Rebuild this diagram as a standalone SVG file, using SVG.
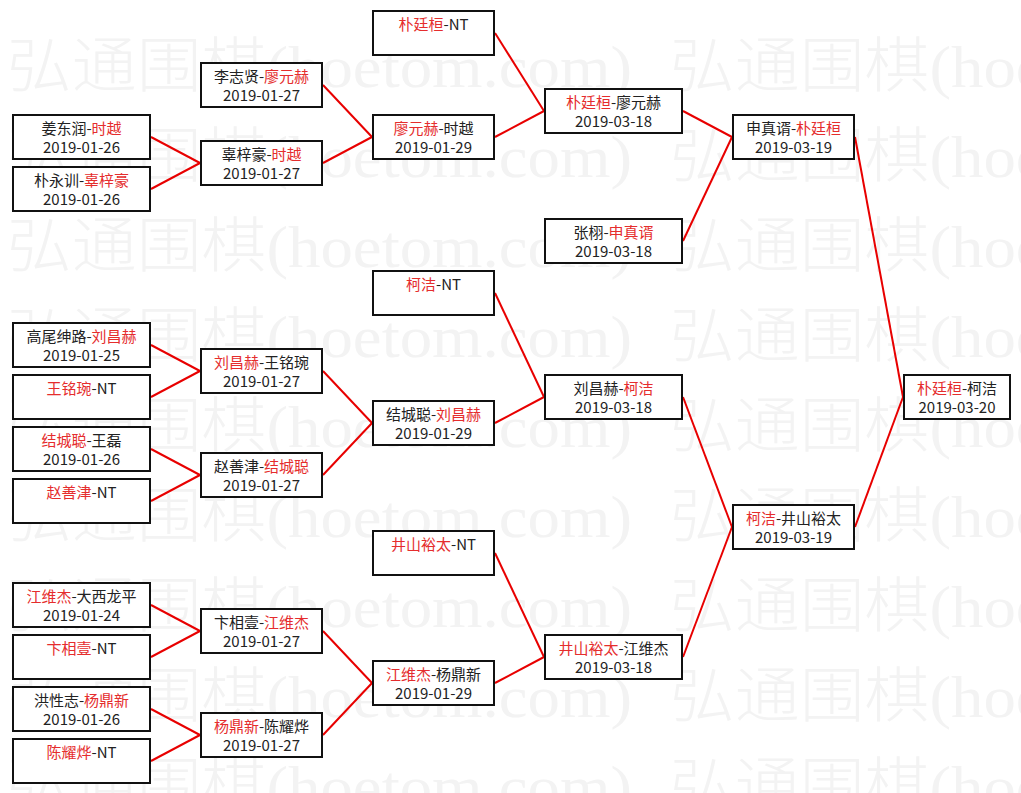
<svg xmlns="http://www.w3.org/2000/svg" width="1021" height="793" viewBox="0 0 1021 793">
<style>
.wm{font-family:"Liberation Serif","Noto Sans CJK SC",serif;font-size:60px;font-weight:300;fill:#f3f3f3}
.box{fill:#fff;stroke:#111;stroke-width:2}
.t{font-family:"Noto Sans CJK SC","Liberation Sans",sans-serif;font-size:15px;fill:#222;text-anchor:middle}
.r{fill:#e52d2d}
.c line{stroke:#e80000;stroke-width:2}
</style>
<rect width="1021" height="793" fill="#fff"/>
<g id="watermark">
<text class="wm" x="7" y="87" textLength="625" lengthAdjust="spacingAndGlyphs">弘通围棋(hoetom.com)</text><text class="wm" x="670" y="87" textLength="625" lengthAdjust="spacingAndGlyphs">弘通围棋(hoetom.com)</text>
<text class="wm" x="7" y="177" textLength="625" lengthAdjust="spacingAndGlyphs">弘通围棋(hoetom.com)</text><text class="wm" x="670" y="177" textLength="625" lengthAdjust="spacingAndGlyphs">弘通围棋(hoetom.com)</text>
<text class="wm" x="7" y="267" textLength="625" lengthAdjust="spacingAndGlyphs">弘通围棋(hoetom.com)</text><text class="wm" x="670" y="267" textLength="625" lengthAdjust="spacingAndGlyphs">弘通围棋(hoetom.com)</text>
<text class="wm" x="7" y="357" textLength="625" lengthAdjust="spacingAndGlyphs">弘通围棋(hoetom.com)</text><text class="wm" x="670" y="357" textLength="625" lengthAdjust="spacingAndGlyphs">弘通围棋(hoetom.com)</text>
<text class="wm" x="7" y="447" textLength="625" lengthAdjust="spacingAndGlyphs">弘通围棋(hoetom.com)</text><text class="wm" x="670" y="447" textLength="625" lengthAdjust="spacingAndGlyphs">弘通围棋(hoetom.com)</text>
<text class="wm" x="7" y="537" textLength="625" lengthAdjust="spacingAndGlyphs">弘通围棋(hoetom.com)</text><text class="wm" x="670" y="537" textLength="625" lengthAdjust="spacingAndGlyphs">弘通围棋(hoetom.com)</text>
<text class="wm" x="7" y="627" textLength="625" lengthAdjust="spacingAndGlyphs">弘通围棋(hoetom.com)</text><text class="wm" x="670" y="627" textLength="625" lengthAdjust="spacingAndGlyphs">弘通围棋(hoetom.com)</text>
<text class="wm" x="7" y="717" textLength="625" lengthAdjust="spacingAndGlyphs">弘通围棋(hoetom.com)</text><text class="wm" x="670" y="717" textLength="625" lengthAdjust="spacingAndGlyphs">弘通围棋(hoetom.com)</text>
<text class="wm" x="7" y="807" textLength="625" lengthAdjust="spacingAndGlyphs">弘通围棋(hoetom.com)</text><text class="wm" x="670" y="807" textLength="625" lengthAdjust="spacingAndGlyphs">弘通围棋(hoetom.com)</text>
</g>
<g id="connectors" class="c">
<line x1="151" y1="137" x2="200" y2="163"/><line x1="151" y1="189" x2="200" y2="163"/>
<line x1="151" y1="345" x2="200" y2="371"/><line x1="151" y1="397" x2="200" y2="371"/>
<line x1="151" y1="449" x2="200" y2="475"/><line x1="151" y1="501" x2="200" y2="475"/>
<line x1="151" y1="605" x2="200" y2="631"/><line x1="151" y1="657" x2="200" y2="631"/>
<line x1="151" y1="709" x2="200" y2="735"/><line x1="151" y1="761" x2="200" y2="735"/>
<line x1="323" y1="85" x2="372" y2="137"/><line x1="323" y1="163" x2="372" y2="137"/>
<line x1="323" y1="371" x2="372" y2="423"/><line x1="323" y1="475" x2="372" y2="423"/>
<line x1="323" y1="631" x2="372" y2="683"/><line x1="323" y1="735" x2="372" y2="683"/>
<line x1="495" y1="33" x2="544" y2="111"/><line x1="495" y1="137" x2="544" y2="111"/>
<line x1="495" y1="293" x2="544" y2="397"/><line x1="495" y1="423" x2="544" y2="397"/>
<line x1="495" y1="553" x2="544" y2="657"/><line x1="495" y1="683" x2="544" y2="657"/>
<line x1="683" y1="111" x2="732" y2="137"/><line x1="683" y1="241" x2="732" y2="137"/>
<line x1="683" y1="397" x2="732" y2="527"/><line x1="683" y1="657" x2="732" y2="527"/>
<line x1="855" y1="137" x2="903" y2="397"/><line x1="855" y1="527" x2="903" y2="397"/>
</g>
<!-- column 1 -->
<g id="n1"><rect class="box" x="13" y="115" width="137" height="44"/><text class="t" x="81.5" y="134">姜东润-<tspan class="r">时越</tspan></text><text class="t" x="81.5" y="153">2019-01-26</text></g>
<g id="n2"><rect class="box" x="13" y="167" width="137" height="44"/><text class="t" x="81.5" y="186">朴永训-<tspan class="r">辜梓豪</tspan></text><text class="t" x="81.5" y="205">2019-01-26</text></g>
<g id="n3"><rect class="box" x="13" y="323" width="137" height="44"/><text class="t" x="81.5" y="342">高尾绅路-<tspan class="r">刘昌赫</tspan></text><text class="t" x="81.5" y="361">2019-01-25</text></g>
<g id="n4"><rect class="box" x="13" y="375" width="137" height="44"/><text class="t" x="81.5" y="394"><tspan class="r">王铭琬</tspan>-NT</text></g>
<g id="n5"><rect class="box" x="13" y="427" width="137" height="44"/><text class="t" x="81.5" y="446"><tspan class="r">结城聪</tspan>-王磊</text><text class="t" x="81.5" y="465">2019-01-26</text></g>
<g id="n6"><rect class="box" x="13" y="479" width="137" height="44"/><text class="t" x="81.5" y="498"><tspan class="r">赵善津</tspan>-NT</text></g>
<g id="n7"><rect class="box" x="13" y="583" width="137" height="44"/><text class="t" x="81.5" y="602"><tspan class="r">江维杰</tspan>-大西龙平</text><text class="t" x="81.5" y="621">2019-01-24</text></g>
<g id="n8"><rect class="box" x="13" y="635" width="137" height="44"/><text class="t" x="81.5" y="654"><tspan class="r">卞相壹</tspan>-NT</text></g>
<g id="n9"><rect class="box" x="13" y="687" width="137" height="44"/><text class="t" x="81.5" y="706">洪性志-<tspan class="r">杨鼎新</tspan></text><text class="t" x="81.5" y="725">2019-01-26</text></g>
<g id="n10"><rect class="box" x="13" y="739" width="137" height="44"/><text class="t" x="81.5" y="758"><tspan class="r">陈耀烨</tspan>-NT</text></g>
<!-- column 2 -->
<g id="m1"><rect class="box" x="201" y="63" width="121" height="44"/><text class="t" x="261.5" y="82">李志贤-<tspan class="r">廖元赫</tspan></text><text class="t" x="261.5" y="101">2019-01-27</text></g>
<g id="m2"><rect class="box" x="201" y="141" width="121" height="44"/><text class="t" x="261.5" y="160">辜梓豪-<tspan class="r">时越</tspan></text><text class="t" x="261.5" y="179">2019-01-27</text></g>
<g id="m3"><rect class="box" x="201" y="349" width="121" height="44"/><text class="t" x="261.5" y="368"><tspan class="r">刘昌赫</tspan>-王铭琬</text><text class="t" x="261.5" y="387">2019-01-27</text></g>
<g id="m4"><rect class="box" x="201" y="453" width="121" height="44"/><text class="t" x="261.5" y="472">赵善津-<tspan class="r">结城聪</tspan></text><text class="t" x="261.5" y="491">2019-01-27</text></g>
<g id="m5"><rect class="box" x="201" y="609" width="121" height="44"/><text class="t" x="261.5" y="628">卞相壹-<tspan class="r">江维杰</tspan></text><text class="t" x="261.5" y="647">2019-01-27</text></g>
<g id="m6"><rect class="box" x="201" y="713" width="121" height="44"/><text class="t" x="261.5" y="732"><tspan class="r">杨鼎新</tspan>-陈耀烨</text><text class="t" x="261.5" y="751">2019-01-27</text></g>
<!-- column 3 -->
<g id="q1"><rect class="box" x="373" y="11" width="121" height="44"/><text class="t" x="433.5" y="30"><tspan class="r">朴廷桓</tspan>-NT</text></g>
<g id="q2"><rect class="box" x="373" y="115" width="121" height="44"/><text class="t" x="433.5" y="134"><tspan class="r">廖元赫</tspan>-时越</text><text class="t" x="433.5" y="153">2019-01-29</text></g>
<g id="q3"><rect class="box" x="373" y="271" width="121" height="44"/><text class="t" x="433.5" y="290"><tspan class="r">柯洁</tspan>-NT</text></g>
<g id="q4"><rect class="box" x="373" y="401" width="121" height="44"/><text class="t" x="433.5" y="420">结城聪-<tspan class="r">刘昌赫</tspan></text><text class="t" x="433.5" y="439">2019-01-29</text></g>
<g id="q5"><rect class="box" x="373" y="531" width="121" height="44"/><text class="t" x="433.5" y="550"><tspan class="r">井山裕太</tspan>-NT</text></g>
<g id="q6"><rect class="box" x="373" y="661" width="121" height="44"/><text class="t" x="433.5" y="680"><tspan class="r">江维杰</tspan>-杨鼎新</text><text class="t" x="433.5" y="699">2019-01-29</text></g>
<!-- column 4 -->
<g id="r1"><rect class="box" x="545" y="89" width="137" height="44"/><text class="t" x="613.5" y="108"><tspan class="r">朴廷桓</tspan>-廖元赫</text><text class="t" x="613.5" y="127">2019-03-18</text></g>
<g id="r2"><rect class="box" x="545" y="219" width="137" height="44"/><text class="t" x="613.5" y="238">张栩-<tspan class="r">申真谞</tspan></text><text class="t" x="613.5" y="257">2019-03-18</text></g>
<g id="r3"><rect class="box" x="545" y="375" width="137" height="44"/><text class="t" x="613.5" y="394">刘昌赫-<tspan class="r">柯洁</tspan></text><text class="t" x="613.5" y="413">2019-03-18</text></g>
<g id="r4"><rect class="box" x="545" y="635" width="137" height="44"/><text class="t" x="613.5" y="654"><tspan class="r">井山裕太</tspan>-江维杰</text><text class="t" x="613.5" y="673">2019-03-18</text></g>
<!-- column 5 -->
<g id="s1"><rect class="box" x="733" y="115" width="121" height="44"/><text class="t" x="793.5" y="134">申真谞-<tspan class="r">朴廷桓</tspan></text><text class="t" x="793.5" y="153">2019-03-19</text></g>
<g id="s2"><rect class="box" x="733" y="505" width="121" height="44"/><text class="t" x="793.5" y="524"><tspan class="r">柯洁</tspan>-井山裕太</text><text class="t" x="793.5" y="543">2019-03-19</text></g>
<!-- column 6 -->
<g id="t1"><rect class="box" x="904" y="375" width="106" height="44"/><text class="t" x="957" y="394"><tspan class="r">朴廷桓</tspan>-柯洁</text><text class="t" x="957" y="413">2019-03-20</text></g>
</svg>
